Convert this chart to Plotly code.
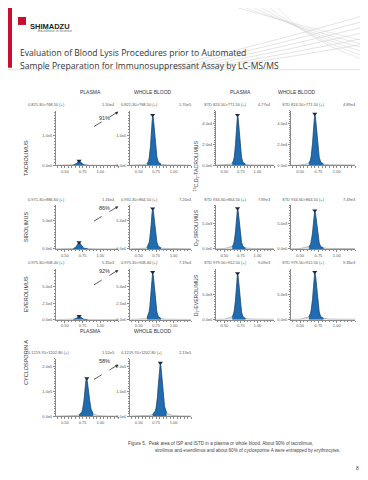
import plotly.graph_objects as go

W, H = 368, 480

# ---------------- data ----------------
# retention time grid (min) for tacrolimus / sirolimus / everolimus
T_MAIN = [0.38, 0.50, 0.56, 0.60, 0.62, 0.64, 0.65, 0.66, 0.67, 0.68, 0.69,
          0.70, 0.71, 0.72, 0.73, 0.74, 0.76, 0.78, 0.82, 0.90, 1.05, 1.25]
# retention time grid for cyclosporin A
T_CYC = [0.38, 0.55, 0.62, 0.66, 0.70, 0.72, 0.74, 0.75, 0.76, 0.77, 0.78,
         0.79, 0.80, 0.81, 0.82, 0.83, 0.85, 0.87, 0.90, 0.98, 1.10, 1.25]

# intensities (counts)
tac_plasma = [300, 400, 500, 800, 1200, 2400, 3600, 5500, 8200, 11400, 14200,
              15000, 13800, 11200, 8400, 5900, 2900, 1300, 600, 400, 300, 300]
tac_blood = [500, 800, 1200, 2500, 5000, 14000, 24000, 40000, 66000, 104000, 146000,
             170000, 158000, 128000, 92000, 62000, 28000, 11000, 4000, 1500, 800, 600]
tac_is_plasma = [200, 300, 1000, 1200, 2000, 4500, 7500, 12500, 20000, 30000, 41000,
                 47700, 44000, 35500, 25500, 17000, 7500, 3000, 1000, 400, 300, 300]
tac_is_blood = [200, 300, 1100, 1300, 2200, 4800, 8000, 13000, 21000, 31000, 42000,
                48900, 45000, 36000, 26000, 17500, 7800, 3100, 1100, 500, 300, 300]

sir_plasma = [200, 300, 400, 600, 900, 1800, 2800, 4300, 6500, 9000, 11000,
              11600, 10600, 8700, 6400, 4500, 2200, 1000, 500, 300, 200, 200]
sir_blood = [300, 500, 800, 1500, 3000, 7000, 11500, 19000, 29000, 44000, 62000,
             72000, 67000, 54000, 39000, 26000, 12000, 4800, 1800, 800, 500, 400]
sir_is_plasma = [50, 80, 300, 350, 500, 900, 1400, 2200, 3400, 5000, 6700,
                 7890, 7300, 5900, 4300, 2900, 1300, 500, 200, 100, 80, 80]
sir_is_blood = [50, 80, 280, 330, 480, 850, 1300, 2100, 3200, 4700, 6400,
                7490, 6900, 5600, 4100, 2700, 1200, 480, 190, 100, 80, 80]

eve_plasma = [150, 200, 250, 350, 500, 900, 1400, 2000, 2900, 4000, 4900,
              5350, 5000, 4100, 3000, 2100, 1000, 450, 250, 200, 150, 150]
eve_blood = [300, 500, 800, 1500, 3000, 7500, 12000, 19500, 30000, 45000, 62000,
             71900, 66000, 53000, 38000, 25500, 11500, 4600, 1700, 700, 400, 300]
eve_is_plasma = [60, 90, 350, 400, 600, 1100, 1700, 2600, 3900, 5700, 7700,
                 9090, 8400, 6800, 4900, 3300, 1500, 600, 250, 120, 90, 80]
eve_is_blood = [60, 90, 360, 420, 620, 1150, 1750, 2700, 4000, 5900, 8000,
                9360, 8700, 7000, 5100, 3400, 1550, 620, 260, 120, 90, 80]

cyc_plasma = [800, 1200, 1800, 3000, 5500, 9500, 17000, 26000, 40000, 62000, 92000,
              124000, 148000, 152000, 138000, 110000, 62000, 28000, 9000, 2500, 1200, 900]
cyc_blood = [1000, 1500, 2300, 3800, 7000, 12500, 22000, 34000, 52000, 80000, 120000,
             165000, 200000, 213000, 194000, 155000, 88000, 40000, 13000, 3500, 1600, 1200]

# panel header texts
titles = {
    "A1": ("0.821.30>768.50 (+)", "1.50e4"), "B1": ("0.821.30>768.50 (+)", "1.70e5"),
    "C1": ("STD 824.50>771.50 (+)", "4.77e4"), "D1": ("STD 824.50>771.50 (+)", "4.89e4"),
    "A2": ("0.971.30>886.60 (+)", "1.16e4"), "B2": ("0.931.30>864.50 (+)", "7.20e4"),
    "C2": ("STD 934.60>864.50 (+)", "7.89e3"), "D2": ("STD 934.60>864.50 (+)", "7.49e3"),
    "A3": ("0.975.30>908.40 (+)", "5.35e3"), "B3": ("0.975.30>908.40 (+)", "7.19e4"),
    "C3": ("STD 979.50>912.50 (+)", "9.09e3"), "D3": ("STD 979.50>912.50 (+)", "9.36e3"),
    "A4": ("0.1219.70>1202.80 (+)", "1.52e5"), "B4": ("0.1219.70>1202.80 (+)", "2.13e5"),
}
row_names_left = ["TACROLIMUS", "SIROLIMUS", "EVEROLIMUS", "CYCLOSPORIN A"]
row_names_right = ["<sup>13</sup>C,D<sub>2</sub>-TACROLIMUS", "D<sub>3</sub>-SIROLIMUS",
                   "D<sub>2</sub>-EVEROLIMUS"]
percent_labels = ["91%", "86%", "92%", "58%"]

x_ticks = [0.50, 0.75, 1.00]
x_tick_text = ["0.50", "0.75", "1.00"]

# y ticks per row (left pair / right pair)
y_left = [([0, 100000], ["0.0e0", "1.0e5"], 178000),
          ([0, 50000], ["0.0e0", "5.0e4"], 75000),
          ([0, 25000, 50000], ["0.0e0", "2.5e4", "5.0e4"], 74000),
          ([0, 100000, 200000], ["0.0e0", "1.0e5", "2.0e5"], 222000)]
y_right = [([0, 20000, 40000], ["0.0e0", "2.0e4", "4.0e4"], 50000),
           ([0, 5000], ["0.0e0", "5.0e3"], 8200),
           ([0, 5000], ["0.0e0", "5.0e3"], 9600)]

# ---------------- layout geometry (px) ----------------
COLS = {"A": (48, 110), "B": (122, 183), "C": (208, 266), "D": (283, 347)}
ROWS = [(103, 158), (198, 242), (262, 313), (352, 410)]
ARROW_DY = [0, 0, 0, 5]
TITLE_DX = {"A": -30, "B": -11, "C": -14, "D": -11}

def px(x):
    return x / W

def py(y):
    return 1 - y / H

BLUE = "#1f6cb0"
EDGE = "#0d3d66"
AX = "#8a8a8a"
TXT = "#555555"
FONT = "Liberation Sans"

fig = go.Figure()
layout = {}
annotations = []
shapes = []

series = {
    "A1": (T_MAIN, tac_plasma), "B1": (T_MAIN, tac_blood),
    "C1": (T_MAIN, tac_is_plasma), "D1": (T_MAIN, tac_is_blood),
    "A2": (T_MAIN, sir_plasma), "B2": (T_MAIN, sir_blood),
    "C2": (T_MAIN, sir_is_plasma), "D2": (T_MAIN, sir_is_blood),
    "A3": (T_MAIN, eve_plasma), "B3": (T_MAIN, eve_blood),
    "C3": (T_MAIN, eve_is_plasma), "D3": (T_MAIN, eve_is_blood),
    "A4": (T_CYC, cyc_plasma), "B4": (T_CYC, cyc_blood),
}
PEAK_LO, PEAK_HI = 4, 18  # integration window indexes

n = 0
for key, (tt, yy) in series.items():
    n += 1
    col, row = key[0], int(key[1]) - 1
    x0, x1 = COLS[col]
    top, bot = ROWS[row]
    xa = "x" if n == 1 else f"x{n}"
    ya = "y" if n == 1 else f"y{n}"
    if col in "AB":
        tv, tt_text, ymax = y_left[row]
    else:
        tv, tt_text, ymax = y_right[row]
    # baseline trace
    fig.add_trace(go.Scatter(x=tt, y=yy, mode="lines", line=dict(color="#9a9a9a", width=0.6),
                             fill="tozeroy", fillcolor="rgba(190,190,190,0.5)",
                             xaxis=xa, yaxis=ya, showlegend=False, hoverinfo="skip"))
    # integrated peak
    fig.add_trace(go.Scatter(x=tt[PEAK_LO:PEAK_HI + 1], y=yy[PEAK_LO:PEAK_HI + 1], mode="lines",
                             line=dict(color=EDGE, width=0.6), fill="tozeroy", fillcolor=BLUE,
                             xaxis=xa, yaxis=ya, showlegend=False, hoverinfo="skip"))
    # apex marker
    imax = yy.index(max(yy))
    fig.add_trace(go.Scatter(x=[tt[imax]], y=[yy[imax]], mode="markers",
                             marker=dict(symbol="triangle-down", size=4.5, color="#1a2a44",
                                         line=dict(width=0)),
                             cliponaxis=False, xaxis=xa, yaxis=ya, showlegend=False,
                             hoverinfo="skip"))
    layout["xaxis" if n == 1 else f"xaxis{n}"] = dict(
        domain=[px(x0), px(x1)], anchor=ya, range=[0.375, 1.25],
        tickvals=x_ticks, ticktext=x_tick_text, ticks="outside", ticklen=2, tickwidth=0.6,
        tickcolor=AX, showline=True, linecolor=AX, linewidth=0.7, showgrid=False,
        zeroline=False, tickfont=dict(size=4, color=TXT, family=FONT),
        minor=dict(dtick=0.05, ticks="outside", ticklen=1.5, tickcolor=AX, tickwidth=0.5))
    layout["yaxis" if n == 1 else f"yaxis{n}"] = dict(
        domain=[py(bot), py(top)], anchor=xa, range=[0, ymax * 1.04],
        tickvals=tv, ticktext=tt_text, ticks="outside", ticklen=2, tickwidth=0.6,
        tickcolor=AX, showline=True, linecolor=AX, linewidth=0.7, showgrid=False,
        zeroline=False, tickfont=dict(size=4, color=TXT, family=FONT),
        minor=dict(nticks=6, ticks="outside", ticklen=1.5, tickcolor=AX, tickwidth=0.5))
    # panel header texts
    ttl, area = titles[key]
    tx = x0 + TITLE_DX[col]
    ax_right = x1 - 1 if col in "AC" else x1 + 3
    annotations.append(dict(x=px(tx), y=py(top - 6),
                            xref="paper", yref="paper", text=ttl, showarrow=False,
                            xanchor="left", yanchor="middle",
                            font=dict(size=4, color=TXT, family=FONT)))
    annotations.append(dict(x=px(ax_right), y=py(top - 6), xref="paper", yref="paper",
                            text=area, showarrow=False, xanchor="right", yanchor="middle",
                            font=dict(size=4, color=TXT, family=FONT)))

# row labels
for i, name in enumerate(row_names_left):
    top, bot = ROWS[i]
    annotations.append(dict(x=px(13), y=py((top + bot) / 2), xref="paper", yref="paper",
                            text=name, textangle=-90, showarrow=False,
                            font=dict(size=5.5, color="#333333", family=FONT)))
for i, name in enumerate(row_names_right):
    top, bot = ROWS[i]
    annotations.append(dict(x=px(188), y=py((top + bot) / 2 + 1), xref="paper", yref="paper",
                            text=name, textangle=-90, showarrow=False,
                            font=dict(size=5.2, color="#333333", family=FONT)))

# percentage arrows (dashed line + small arrowhead)
for i, lab in enumerate(percent_labels):
    top, bot = ROWS[i]
    top = top + ARROW_DY[i]
    xs, ys = 86, top + 16
    xe, ye = 108, top + 2.5
    shapes.append(dict(type="line", xref="paper", yref="paper", x0=px(xs), y0=py(ys),
                       x1=px(xe), y1=py(ye), line=dict(color="#333333", width=0.8, dash="dash")))
    hx, hy = xe + 2.5, ye - 1.5
    shapes.append(dict(type="path", xref="paper", yref="paper",
                       path=(f"M {px(hx)},{py(hy)} L {px(hx - 3.6)},{py(hy + 0.6)} "
                             f"L {px(hx - 1.8)},{py(hy + 3.2)} Z"),
                       fillcolor="#333333", line=dict(width=0)))
    annotations.append(dict(x=px(89), y=py(top + 2.5), xref="paper", yref="paper", text=lab,
                            showarrow=False, font=dict(size=5.5, color="#333333", family=FONT)))

# column headers
for (xc, lab) in [(70, "PLASMA"), (145, "WHOLE BLOOD"), (232, "PLASMA"), (310, "WHOLE BLOOD")]:
    annotations.append(dict(x=px(xc), y=py(79), xref="paper", yref="paper", text=lab,
                            showarrow=False, font=dict(size=5, color="#333333", family=FONT)))
for (xc, lab) in [(70, "PLASMA"), (145, "WHOLE BLOOD")]:
    annotations.append(dict(x=px(xc), y=py(329), xref="paper", yref="paper", text=lab,
                            showarrow=False, font=dict(size=5, color="#333333", family=FONT)))

# page header
shapes.append(dict(type="rect", xref="paper", yref="paper", x0=0, x1=px(4), y0=py(60), y1=1,
                   fillcolor="#c8102e", line=dict(width=0)))
shapes.append(dict(type="rect", xref="paper", yref="paper", x0=px(10), x1=px(18),
                   y0=py(17), y1=py(9), fillcolor="#c8102e", line=dict(width=0)))
shapes.append(dict(type="line", xref="paper", yref="paper", x0=0, x1=1, y0=py(62), y1=py(62),
                   line=dict(color="#cfcfcf", width=0.6)))
for k in range(6):
    shapes.append(dict(type="path", xref="paper", yref="paper",
                       path=f"M {px(150 + k * 12)},{py(62 - k * 0.5)} Q {px(280)},{py(30 + k * 4)} {px(368)},{py(4 + k * 6)}",
                       line=dict(color="#c8c8c8", width=0.5)))
    shapes.append(dict(type="path", xref="paper", yref="paper",
                       path=f"M {px(230 + k * 8)},{py(0)} Q {px(300)},{py(20 + k * 3)} {px(368)},{py(36 + k * 4)}",
                       line=dict(color="#d0d0d0", width=0.5)))
annotations.append(dict(x=px(20), y=py(12), xref="paper", yref="paper", text="<b>SHIMADZU</b>",
                        showarrow=False, xanchor="left",
                        font=dict(size=7.5, color="#222222", family=FONT)))
annotations.append(dict(x=px(28), y=py(19), xref="paper", yref="paper",
                        text="Excellence in Science", showarrow=False, xanchor="left",
                        font=dict(size=3.5, color="#666666", family=FONT)))
annotations.append(dict(x=px(10), y=py(37), xref="paper", yref="paper",
                        text="Evaluation of Blood Lysis Procedures prior to Automated",
                        showarrow=False, xanchor="left",
                        font=dict(size=8.6, color="#333333", family="Open Sans")))
annotations.append(dict(x=px(10), y=py(50), xref="paper", yref="paper",
                        text="Sample Preparation for Immunosuppressant Assay by LC-MS/MS",
                        showarrow=False, xanchor="left",
                        font=dict(size=8.6, color="#333333", family="Open Sans")))

# caption and page number
annotations.append(dict(x=px(118), y=py(442), xref="paper", yref="paper",
                        text="Figure 5.  Peak area of ISP and ISTD in a plasma or whole blood. About 90% of tacrolimus,",
                        showarrow=False, xanchor="left",
                        font=dict(size=4.6, color="#444444", family=FONT)))
annotations.append(dict(x=px(145), y=py(449), xref="paper", yref="paper",
                        text="sirolimus and everolimus and about 60% of cyclosporine A were entrapped by erythrocytes.",
                        showarrow=False, xanchor="left",
                        font=dict(size=4.6, color="#444444", family=FONT)))
annotations.append(dict(x=px(353), y=py(467), xref="paper", yref="paper", text="8",
                        showarrow=False, font=dict(size=5, color="#444444", family=FONT)))

fig.update_layout(width=W, height=H, margin=dict(l=0, r=0, t=0, b=0),
                  paper_bgcolor="white", plot_bgcolor="white",
                  annotations=annotations, shapes=shapes, **layout)
fig.write_html("out.html")
